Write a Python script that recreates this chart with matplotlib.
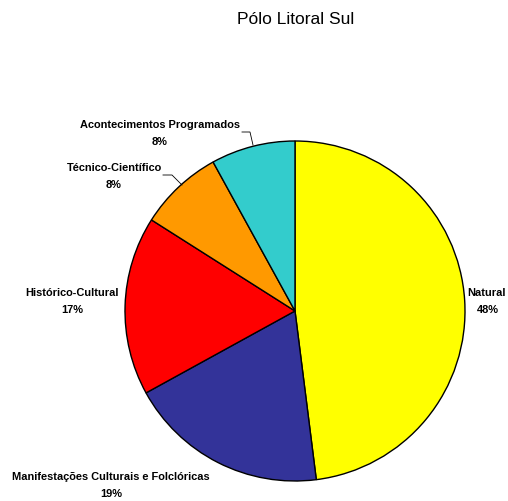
import matplotlib
matplotlib.use('Agg')
import matplotlib.pyplot as plt
from matplotlib import rcParams
rcParams['font.family'] = ['Liberation Sans', 'DejaVu Sans']

# data
labels = ['Natural', 'Manifestações Culturais e Folclóricas', 'Histórico-Cultural',
          'Técnico-Científico', 'Acontecimentos Programados']
values = [48, 19, 17, 8, 8]
colors = ['#FFFF00', '#333399', '#FF0000', '#FF9900', '#33CCCC']

W, H = 508, 502
fig = plt.figure(figsize=(W / 100, H / 100), dpi=100)
ax = fig.add_axes([0, 0, 1, 1])

# pie in pixel-like coords (y measured from bottom)
cx, cy, r = 295, H - 312, 170
ax.pie(values, colors=colors, startangle=90, counterclock=False,
       center=(cx, cy), radius=r,
       wedgeprops=dict(edgecolor='black', linewidth=1))
ax.set_xlim(0, W)
ax.set_ylim(0, H)
ax.set_aspect('equal')
ax.axis('off')

# label positions (px from top-left): (label x, pct x, y)
lab_pos = [(506, 488, 293), (111, 111, 477), (72, 72, 293), (114, 114, 168), (160, 160, 125)]
fs = 7.9
for i, (lab, v, (x, px, y)) in enumerate(zip(labels, values, lab_pos)):
    ha = 'right' if i == 0 else 'center'
    ax.text(x, H - y, lab, fontsize=fs, fontweight='bold', ha=ha, va='center')
    ax.text(px, H - y - 17, f'{v}%', fontsize=fs, fontweight='bold', ha='center', va='center')

# leader lines
ax.plot([242, 250, 253], [H - 133, H - 133, H - 146], color='black', lw=0.6)
ax.plot([163, 172, 182], [H - 176, H - 176, H - 186], color='black', lw=0.6)

fig.text(296 / W, 1 - 20 / H, 'Pólo Litoral Sul', fontsize=12.5, ha='center', va='center')

fig.savefig('out.png', dpi=100)
